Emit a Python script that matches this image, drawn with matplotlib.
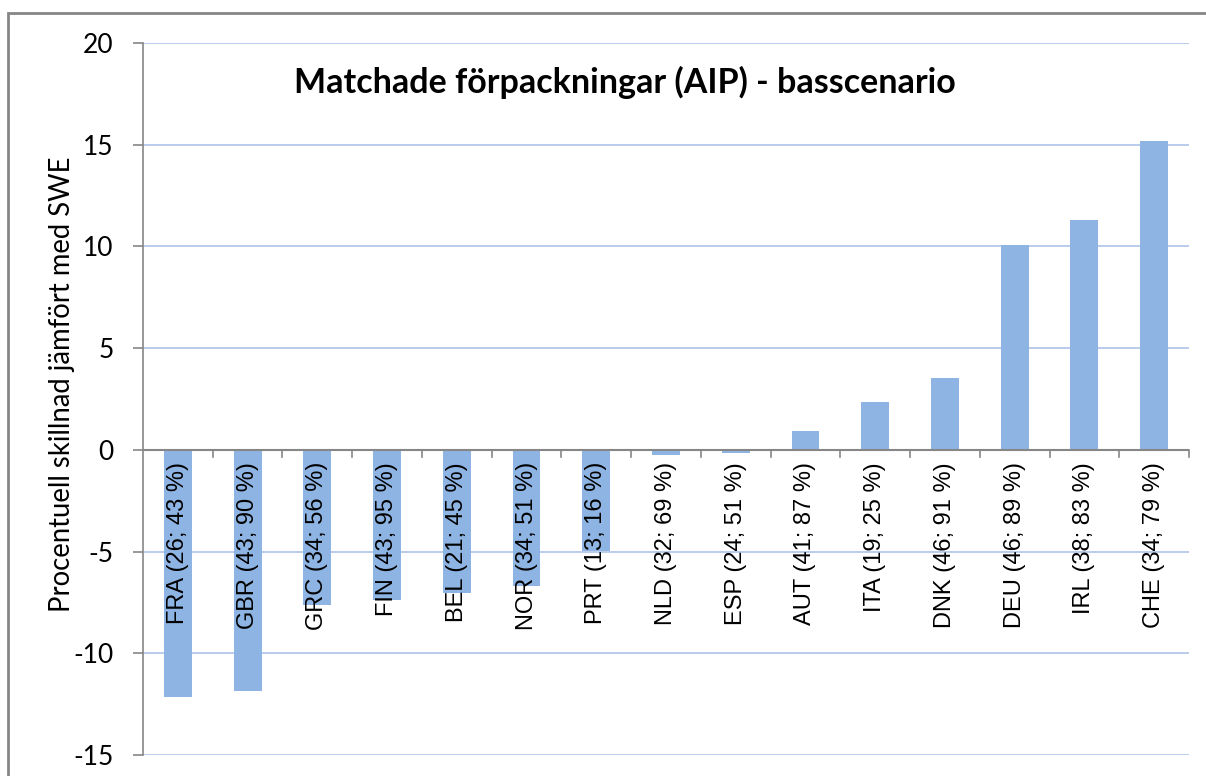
import matplotlib.pyplot as plt
import numpy as np

plt.rcParams['font.family'] = ['Lato', 'DejaVu Sans']

countries = ['FRA (26; 43 %)', 'GBR (43; 90 %)', 'GRC (34; 56 %)', 'FIN (43; 95 %)',
             'BEL (21; 45 %)', 'NOR (34; 51 %)', 'PRT (13; 16 %)', 'NLD (32; 69 %)',
             'ESP (24; 51 %)', 'AUT (41; 87 %)', 'ITA (19; 25 %)', 'DNK (46; 91 %)',
             'DEU (46; 89 %)', 'IRL (38; 83 %)', 'CHE (34; 79 %)']
diff = [-12.17, -11.87, -7.63, -7.39, -7.04, -6.70, -4.98, -0.25,
        -0.15, 0.94, 2.36, 3.55, 10.05, 11.28, 15.17]
yticks = [-15, -10, -5, 0, 5, 10, 15, 20]

W, H = 1206, 776
fig = plt.figure(figsize=(W / 100, H / 100), dpi=100)
ax = fig.add_axes([143 / W, 1 - 755 / H, (1189 - 143) / W, (755 - 43) / H])

# outer chart frame (cut at right and bottom)
fig.patches.append(plt.Rectangle((8 / W, -0.1), 1.2, 1 - 13 / H + 0.1,
                                 transform=fig.transFigure, fill=False,
                                 edgecolor='#868686', linewidth=2))

x = np.arange(len(countries))
ax.bar(x, diff, width=0.4, color='#8EB4E3', zorder=2)

ax.set_xlim(-0.5, len(countries) - 0.5)
ax.set_ylim(-15, 20)
ax.set_yticks(yticks)
ax.set_yticklabels([str(t) for t in yticks], fontsize=19)
ax.yaxis.grid(True, color='#B4C8EA', linewidth=1.3, zorder=0)
ax.set_axisbelow(True)

for s in ['top', 'right', 'bottom']:
    ax.spines[s].set_visible(False)
ax.spines['left'].set_color('#868686')
ax.spines['left'].set_linewidth(1.2)
ax.tick_params(axis='y', length=7, color='#868686', width=1.2, pad=14)

# category axis at zero with ticks between categories
ax.axhline(0, color='#868686', linewidth=1.5, zorder=3)
ax.set_xticks([])
for b in np.arange(-0.5, len(countries), 1.0)[1:]:
    ax.plot([b, b], [0, -0.35], color='#868686', linewidth=1.2, zorder=3,
            clip_on=False)

for xi, lab in zip(x, countries):
    ax.text(xi, -0.6, lab, rotation=90, ha='center', va='top', fontsize=17,
            family=['Liberation Sans', 'DejaVu Sans'], zorder=4)

ax.text(0.461, 0.945, 'Matchade förpackningar (AIP) - basscenario',
        transform=ax.transAxes, ha='center', va='center', fontsize=24.5,
        fontweight='bold')

fig.text(62 / W, 1 - 384 / H, 'Procentuell skillnad jämfört med SWE',
         rotation=90, ha='center', va='center', fontsize=19.8)

fig.savefig('out.png', dpi=100)
